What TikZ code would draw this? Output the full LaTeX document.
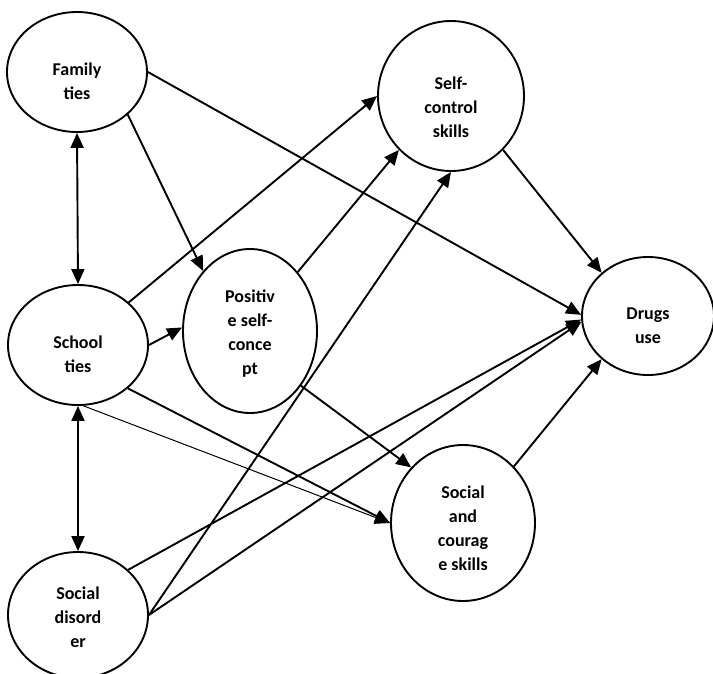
\documentclass[tikz,border=0pt]{standalone}
\usepackage{fontspec}
\setmainfont{Carlito}
\usepackage{tikz}
\usetikzlibrary{
  	positioning,
  	arrows.meta,
  	shapes
  }
\tikzstyle{var}=[ellipse,draw,line width=1.9pt,inner sep=0pt,align=center,font=\bfseries\fontsize{18}{24}\selectfont]
\tikzstyle{drop}=[execute at begin node={\rule{0pt}{#1}}]
\tikzstyle{arr}=[line width=1.9pt,-{Triangle[length=15pt,width=13pt]}]
\tikzstyle{thinarr}=[line width=1pt,-{Triangle[length=15pt,width=13pt]}]
\tikzstyle{both}=[line width=1.9pt,{Triangle[length=15pt,width=13pt]}-{Triangle[length=15pt,width=13pt]}]

\begin{document}
\begin{tikzpicture}[x=1pt,y=-1pt]
    \useasboundingbox (0,0) rectangle (713,673);
    \node[var,drop=55pt,minimum width=140pt,minimum height=120pt] (fam) at (77,72) {Family\\ties};
    \path (fam)++(1,273) node[var,drop=55pt,minimum width=140pt,minimum height=120pt] (sch) {School\\ties};
    \path (sch)++(0,270) node[var,drop=65pt,minimum width=140pt,minimum height=126pt] (dis) {Social\\disord\\er};
    \path (sch)++(172,-14) node[var,drop=90pt,minimum width=134pt,minimum height=164pt] (pos) {Positiv\\e self-\\conce\\pt};
    \node[var,drop=83pt,minimum width=146pt,minimum height=150pt] (self) at (451,96) {Self-\\control\\skills};
    \node[var,drop=55pt,minimum width=132pt,minimum height=118pt] (drug) at (648,316) {Drugs\\use};
    \path (self)++(12,427) node[var,drop=95pt,minimum width=144pt,minimum height=156pt] (soc) {Social\\and\\courag\\e skills};
    \draw[both] (fam.south) -- (sch.north);
    \draw[both] (sch.south) -- (dis.north);
    \draw[arr] (fam.-40) -- (pos.128);
    \draw[arr] (fam.east) -- (drug.179);
    \draw[arr] (sch.40) -- (self.west);
    \draw[arr] (sch.east) -- (pos.177);
    \draw[arr] (sch.-41) -- (soc.west);
    \draw[thinarr] (sch.-85) -- (soc.west);
    \draw[arr] (pos.51) -- (self.-134);
    \draw[arr] (pos.-47) -- (soc.133);
    \draw[arr] (self.-46) -- (drug.137);
    \draw[arr] (soc.48) -- (drug.-137);
    \draw[arr] (dis.east) -- (self.south);
    \draw[arr] (dis.42) -- (drug.183);
    \draw[arr] (dis.east) -- (drug.185);
  \end{tikzpicture}
\end{document}
